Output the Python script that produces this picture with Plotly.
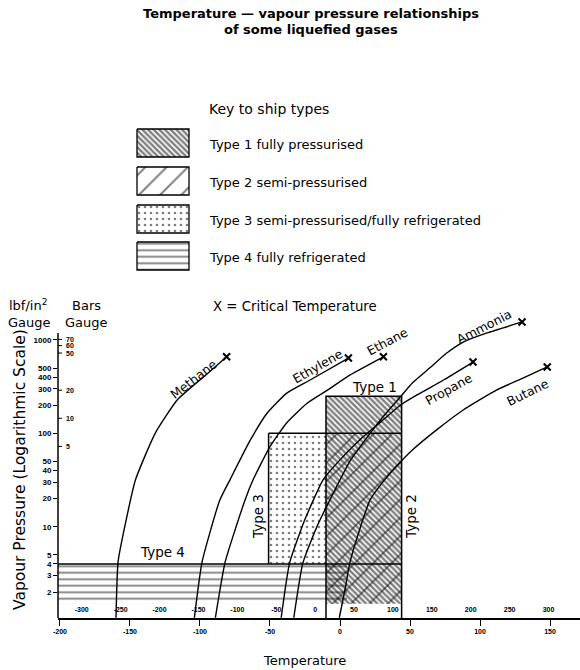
import math
import plotly.graph_objects as go

# ---------------- data ----------------
# temperatures in deg C, vapour pressure in lbf/in2 gauge (log scale)
methane_T = [-160, -158.5, -153.5, -146, -132, -116, -96, -81]
methane_P = [1.06, 4.2, 10.4, 32, 100, 230, 420, 660]

ethylene_T = [-104, -98.5, -86, -78.5, -64, -52, -38, -21, 6]
ethylene_P = [1.06, 4.2, 19, 32, 85, 165, 270, 375, 640]

ethane_T = [-89, -82, -68, -62, -50, -38, -23.5, -9, 7, 31]
ethane_P = [1.06, 4.2, 19, 32, 72, 130, 210, 290, 420, 660]

propane_T = [-42, -36, -25, -12, 0, 14, 29, 43, 55, 74, 95]
propane_P = [1.06, 4.1, 12, 32, 52, 85, 132, 200, 258, 373, 580]

ammonia_T = [-33, -26.5, -16, -3.5, 7, 18, 30, 43, 52, 64, 76, 88, 105, 130]
ammonia_P = [1.06, 4.1, 10.4, 25, 50, 85, 146, 245, 350, 500, 720, 950, 1190, 1560]

butane_T = [-0.5, 3.5, 7, 14, 21.5, 32, 43.5, 51.5, 69, 88, 112, 131, 148]
butane_P = [1.06, 2.1, 4.1, 9.3, 19.4, 32, 50, 66, 109, 178, 292, 392, 514]

gas_names = ["Methane", "Ethylene", "Ethane", "Propane", "Ammonia", "Butane"]
gas_T = [methane_T, ethylene_T, ethane_T, propane_T, ammonia_T, butane_T]
gas_P = [methane_P, ethylene_P, ethane_P, propane_P, ammonia_P, butane_P]

# ship type envelopes (deg C, lbf/in2)
type_names = ["Type 1", "Type 2", "Type 3", "Type 4"]
type_T = [[-10, 44], [-10, 44], [-51, -10], [-201.4, 5]]
type_P = [[1.5, 250], [1.5, 100], [4, 100], [1.5, 4]]
key_labels = ["Type 1 fully pressurised", "Type 2 semi-pressurised",
              "Type 3 semi-pressurised/fully refrigerated", "Type 4 fully refrigerated"]

x_ticks = [-200, -150, -100, -50, 0, 50, 100, 150]
psi_ticks = [2, 3, 4, 5, 10, 20, 30, 40, 50, 100, 200, 300, 400, 500, 1000]
bar_ticks = [5, 10, 20, 50, 60, 70]
fahrenheit_ticks = [-300, -250, -200, -150, -100, -50, 0, 50, 100, 150, 200, 250, 300, 350]

PSI_PER_BAR = 14.5038

# ---------------- layout geometry ----------------
W, H = 580, 670
ML, MR, MT, MB = 58, 0, 0, 52
PW = W - ML - MR
PH = H - MT - MB
X_RANGE = [-201.4, 171.4]
Y_RANGE = [0.0226, 3.5353]
P_BOTTOM = 10 ** Y_RANGE[0]
MAIN_TOP_PX = 290
FONT = "DejaVu Sans"
FONT2 = "Liberation Sans"


def paper(px, py):
    return (px - ML) / PW, (MT + PH - py) / PH


def ann(text, px, py, size=11, angle=0, xanchor="center", family=FONT, bold=False):
    x, y = paper(px, py)
    return dict(text=text, x=x, y=y, xref="paper", yref="paper", xanchor=xanchor,
                yanchor="middle", showarrow=False, textangle=angle,
                font=dict(size=size, family=family, color="black",
                          weight="bold" if bold else "normal"))


patterns = [
    dict(shape="\\", size=4, solidity=0.62, fgcolor="black", bgcolor="white"),
    dict(shape="/", size=13, solidity=0.13, fgcolor="black", bgcolor="rgba(0,0,0,0)"),
    dict(shape=".", size=6, solidity=0.16, fgcolor="black", bgcolor="rgba(0,0,0,0)"),
    dict(shape="-", size=6.5, solidity=0.28, fgcolor="black", bgcolor="rgba(0,0,0,0)"),
]
fills = ["white", "rgba(0,0,0,0)", "white", "white"]

fig = go.Figure()

# ship type regions
for i in [0, 1, 2, 3]:
    t0, t1 = type_T[i]
    p0, p1 = type_P[i]
    fig.add_trace(go.Scatter(
        x=[t0, t1, t1, t0, t0], y=[p0, p0, p1, p1, p0], mode="lines", fill="toself",
        fillcolor=fills[i], fillpattern=patterns[i], line=dict(width=0),
        hoverinfo="skip", showlegend=False, xaxis="x", yaxis="y"))

# region outlines
t1a, t1b = type_T[0]
ox = [t1a, t1a, t1b, t1b, None, type_T[2][0], t1b, None,
      type_T[2][0], type_T[2][0], None, X_RANGE[0], t1b]
oy = [P_BOTTOM, type_P[0][1], type_P[0][1], P_BOTTOM, None, type_P[1][1], type_P[1][1], None,
      type_P[2][0], type_P[2][1], None, type_P[3][1], type_P[3][1]]
fig.add_trace(go.Scatter(x=ox, y=oy, mode="lines", line=dict(color="black", width=1.5),
                         hoverinfo="skip", showlegend=False, connectgaps=False))

# gas curves
for name, T, P in zip(gas_names, gas_T, gas_P):
    fig.add_trace(go.Scatter(x=T, y=P, mode="lines", name=name,
                             line=dict(color="black", width=1.4, shape="spline", smoothing=0.5),
                             showlegend=False))

# critical temperature markers
fig.add_trace(go.Scatter(x=[T[-1] for T in gas_T], y=[P[-1] for P in gas_P], mode="markers",
                         marker=dict(symbol="x-thin", size=7, line=dict(width=2, color="black")),
                         showlegend=False, cliponaxis=False))

# fahrenheit scale labels
fig.add_trace(go.Scatter(x=[(f - 32) * 5 / 9 for f in fahrenheit_ticks],
                         y=[1.28] * len(fahrenheit_ticks), mode="text",
                         text=[str(f) for f in fahrenheit_ticks],
                         textfont=dict(size=7, family=FONT2, color="black", weight="bold"),
                         showlegend=False, hoverinfo="skip"))

# key swatches (in a pixel-coordinate helper axis)
KEY_X = [137, 189]
KEY_TOP = [129, 167, 205, 242]
KEY_H = 28
for i in range(4):
    x0, x1 = KEY_X
    y0 = KEY_TOP[i]
    y1 = y0 + KEY_H
    pat = dict(patterns[i])
    pat["bgcolor"] = "white"
    if i == 1:
        pat["size"] = 15
    fig.add_trace(go.Scatter(x=[x0, x1, x1, x0, x0], y=[y0, y0, y1, y1, y0], mode="lines",
                             fill="toself", fillcolor="white", fillpattern=pat,
                             line=dict(color="black", width=1.3),
                             xaxis="x2", yaxis="y2", showlegend=False, hoverinfo="skip"))

key_dom = 0.55
annotations = [
    ann("Temperature — vapour pressure relationships", 311, 14, 13, bold=True),
    ann("of some liquefied gases", 311, 29.5, 13, bold=True),
    ann("Key to ship types", 207, 109, 14, xanchor="left"),
    ann("X = Critical Temperature", 295, 306, 13.3),
    ann("lbf/in<sup>2</sup>", 7, 305, 13, xanchor="left"),
    ann("Gauge", 6, 322, 13, xanchor="left"),
    ann("Bars", 70, 305, 13, xanchor="left"),
    ann("Gauge", 63, 322, 13, xanchor="left"),
    ann("Vapour Pressure (Logarithmic Scale)", 20, 470, 15.5, angle=-90),
    ann("Temperature", 304, 661, 13),
    ann("Type 1", 374, 387, 13.5),
    ann("Type 2", 411, 517, 13.5, angle=-90),
    ann("Type 3", 258, 517, 13.5, angle=-90),
    ann("Type 4", 162, 552, 13.5),
    ann("Methane", 193, 379, 12.5, angle=-38),
    ann("Ethylene", 317, 366, 12.5, angle=-30),
    ann("Ethane", 387, 341, 12.5, angle=-28),
    ann("Ammonia", 484, 326, 12.5, angle=-27),
    ann("Propane", 448, 389, 12.5, angle=-29),
    ann("Butane", 527, 392, 12.5, angle=-26),
]
for lab, top in zip(key_labels, KEY_TOP):
    annotations.append(ann(lab, 207, top + 15, 13, xanchor="left"))

# bars gauge labels on the right side of the pressure axis
for b in bar_ticks:
    annotations.append(dict(text=str(b), x=(64 - ML) / PW, y=math.log10(b * PSI_PER_BAR),
                            xref="paper", yref="y", xanchor="left", yanchor="middle",
                            showarrow=False,
                            font=dict(size=7, family=FONT2, color="black", weight="bold")))

shapes = [dict(type="line", xref="paper", yref="y", x0=0, x1=0, y0=P_BOTTOM, y1=1190,
               line=dict(color="black", width=1.5))]
for b in bar_ticks:
    shapes.append(dict(type="line", xref="paper", yref="y", x0=0, x1=4 / PW,
                       y0=b * PSI_PER_BAR, y1=b * PSI_PER_BAR, line=dict(color="black", width=1)))

fig.update_layout(
    width=W, height=H, margin=dict(l=ML, r=MR, t=MT, b=MB),
    paper_bgcolor="white", plot_bgcolor="white", showlegend=False,
    font=dict(family=FONT, color="black"),
    xaxis=dict(range=X_RANGE, tickvals=x_ticks, ticktext=[str(v) for v in x_ticks],
               showgrid=False, zeroline=False, showline=True, linecolor="black", linewidth=1.5,
               ticks="outside", ticklen=6, tickcolor="black",
               tickfont=dict(size=7, family=FONT2, color="black", weight="bold"),
               domain=[0, 1], fixedrange=True),
    yaxis=dict(type="log", range=Y_RANGE, tickvals=psi_ticks, ticktext=[str(v) for v in psi_ticks],
               showgrid=False, zeroline=False, showline=False, ticks="outside", ticklen=4,
               tickcolor="black", tickfont=dict(size=8, family=FONT2, color="black", weight="bold"),
               domain=[0, (MT + PH - MAIN_TOP_PX) / PH], fixedrange=True),
    xaxis2=dict(range=[ML, W - MR], domain=[0, 1], anchor="y2", visible=False, fixedrange=True),
    yaxis2=dict(range=[PH * (1 - key_dom) + MT, MT], domain=[key_dom, 1], anchor="x2",
                visible=False, fixedrange=True),
    annotations=annotations, shapes=shapes,
)

fig.write_html("out.html", config={"displayModeBar": False},
               post_script="document.body.style.margin='0px';")
